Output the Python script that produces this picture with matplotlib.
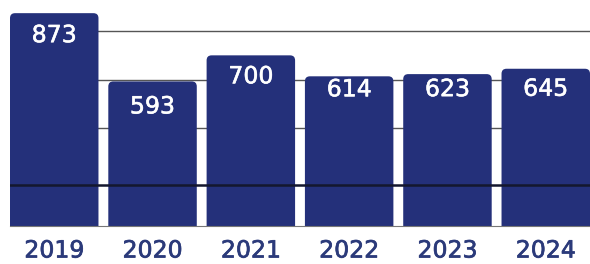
import matplotlib
matplotlib.use("Agg")
import matplotlib.pyplot as plt
from matplotlib.patches import FancyBboxPatch
import matplotlib.patheffects as pe

years = ["2019", "2020", "2021", "2022", "2023", "2024"]
values = [873, 593, 700, 614, 623, 645]
grid_values = [400, 600, 800]
ref_value = 168

# label offsets from bar top in pixels (layout only)
label_offsets = [22, 25, 21, 13, 15, 20]

bar_color = "#24307A"
text_color = "#2B3A7A"

dpi = 100
fig = plt.figure(figsize=(5.9, 2.64), dpi=dpi)
ax = fig.add_axes([10 / 590, 38 / 264, 580 / 590, 226 / 264])

width = 0.9
ax.set_xlim(-0.45, len(values) - 1 + 0.45)
ax.set_ylim(0, 927)

for g in grid_values:
    ax.axhline(g, color="#555555", lw=1.0, zorder=1)

px_x = (len(values) - 1 + 0.9) / 580
px_y = 927 / 226
r = 5
for i, v in enumerate(values):
    p = FancyBboxPatch((i - width / 2, -100), width, v + 100,
                       boxstyle=f"round,pad=0,rounding_size={r * px_x}",
                       mutation_aspect=px_y / px_x,
                       facecolor=bar_color, edgecolor="none", zorder=2)
    ax.add_patch(p)
    ax.annotate(str(v), (i, v), xytext=(0, -label_offsets[i] * 72 / dpi),
                textcoords="offset points", ha="center", va="center",
                color="white", fontsize=17, family="DejaVu Sans", zorder=4,
                path_effects=[pe.withStroke(linewidth=0.4, foreground="white")])

ax.axhline(ref_value, color="#14172E", lw=1.8, zorder=3)

ax.set_xticks(range(len(years)))
ax.set_xticklabels(years, fontsize=17, color=text_color, family="DejaVu Sans")
for t in ax.get_xticklabels():
    t.set_path_effects([pe.withStroke(linewidth=0.5, foreground=text_color)])
ax.tick_params(axis="x", length=0, pad=9)
ax.set_yticks([])
for s in ["top", "left", "right"]:
    ax.spines[s].set_visible(False)
ax.spines["bottom"].set_color("#777777")
ax.spines["bottom"].set_linewidth(0.8)

fig.savefig("out.png", dpi=dpi)
